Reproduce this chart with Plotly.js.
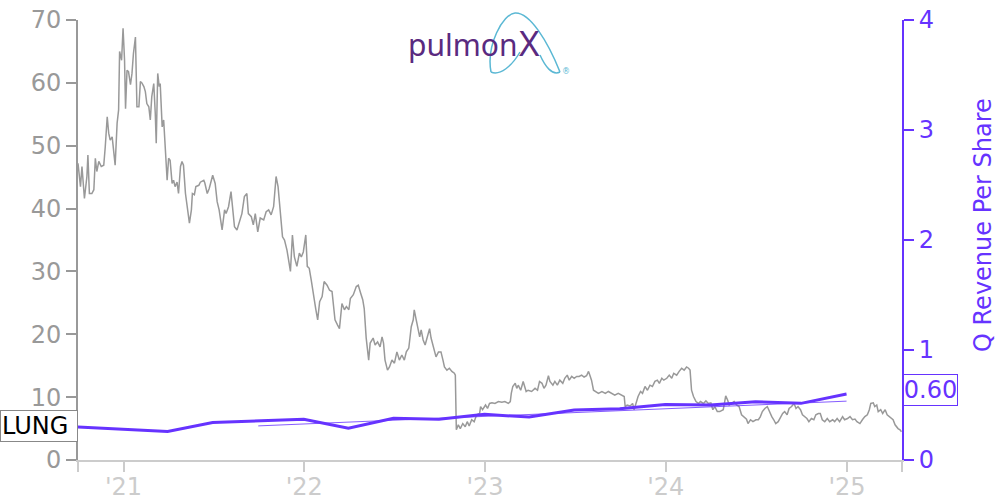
<!DOCTYPE html>
<html><head><meta charset="utf-8">
<script src="https://cdn.plot.ly/plotly-3.0.1.min.js"></script>
<style>html,body{margin:0;padding:0;background:#fff}#chart{width:1000px;height:500px}</style>
</head><body><div id="chart"></div>
<script>
const ticker = 'LUNG';
const brand = 'pulmon';
const brandX = 'X';
const rightTitle = 'Q Revenue Per Share';

const priceDates = [
'2020-10-01','2020-10-06','2020-10-09','2020-10-14','2020-10-19','2020-10-21','2020-10-24','2020-10-29','2020-11-02','2020-11-05','2020-11-08','2020-11-12','2020-11-17','2020-11-22','2020-11-25','2020-11-29','2020-12-02','2020-12-05','2020-12-09','2020-12-12','2020-12-15','2020-12-19','2020-12-22','2020-12-24','2020-12-28','2020-12-31',
'2021-01-03','2021-01-05','2021-01-08','2021-01-11','2021-01-15','2021-01-18','2021-01-21','2021-01-25','2021-01-28','2021-02-01','2021-02-04','2021-02-07','2021-02-11','2021-02-14','2021-02-17','2021-02-21','2021-02-24','2021-02-27','2021-03-03','2021-03-06','2021-03-08','2021-03-11','2021-03-14','2021-03-16','2021-03-20','2021-03-23','2021-03-26','2021-03-30',
'2021-04-02','2021-04-05','2021-04-09','2021-04-12','2021-04-15','2021-04-19','2021-04-22','2021-04-26','2021-04-29','2021-05-02','2021-05-06','2021-05-09','2021-05-14','2021-05-18','2021-05-20','2021-05-24','2021-05-27','2021-06-02','2021-06-05','2021-06-12','2021-06-14','2021-06-19','2021-06-23','2021-06-30',
'2021-07-05','2021-07-09','2021-07-13','2021-07-19','2021-07-24','2021-07-27','2021-08-01','2021-08-06','2021-08-09','2021-08-13','2021-08-18','2021-08-23','2021-08-28','2021-09-02','2021-09-07','2021-09-10','2021-09-16','2021-09-20','2021-09-24','2021-09-29',
'2021-10-04','2021-10-11','2021-10-16','2021-10-21','2021-10-26','2021-10-31','2021-11-05','2021-11-09','2021-11-13','2021-11-18','2021-11-22','2021-11-27','2021-12-04','2021-12-08','2021-12-12','2021-12-17','2021-12-22','2021-12-26','2021-12-30',
'2022-01-04','2022-01-07','2022-01-11','2022-01-15','2022-01-20','2022-01-24','2022-01-28','2022-02-01','2022-02-06','2022-02-10','2022-02-16','2022-02-21','2022-02-26','2022-03-01','2022-03-04','2022-03-09','2022-03-13','2022-03-18','2022-03-23','2022-03-27',
'2022-04-01','2022-04-04','2022-04-10','2022-04-16','2022-04-20','2022-04-25','2022-04-29','2022-05-02','2022-05-06','2022-05-11','2022-05-14','2022-05-20','2022-05-24','2022-05-29','2022-06-03','2022-06-07','2022-06-10','2022-06-13','2022-06-18','2022-06-22','2022-06-27',
'2022-07-02','2022-07-07','2022-07-12','2022-07-17','2022-07-22','2022-07-26','2022-07-31','2022-08-05','2022-08-09','2022-08-11','2022-08-15','2022-08-18','2022-08-22','2022-08-25','2022-08-29','2022-09-02','2022-09-06','2022-09-11','2022-09-14','2022-09-18','2022-09-20','2022-09-24','2022-09-29',
'2022-10-04','2022-10-08','2022-10-11','2022-10-16','2022-10-21','2022-10-26','2022-10-31','2022-11-02','2022-11-04','2022-11-08','2022-11-12','2022-11-17','2022-11-22','2022-11-26','2022-11-30','2022-12-05','2022-12-10','2022-12-15','2022-12-21','2022-12-23','2022-12-27',
'2023-01-02','2023-01-06','2023-01-10','2023-01-15','2023-01-21','2023-01-28','2023-02-04','2023-02-10','2023-02-17','2023-02-21','2023-02-23','2023-02-26','2023-03-03','2023-03-06','2023-03-09','2023-03-14','2023-03-19','2023-03-25','2023-03-29',
'2023-04-05','2023-04-12','2023-04-17','2023-04-21','2023-04-26','2023-04-30','2023-05-04','2023-05-09','2023-05-12','2023-05-18','2023-05-22','2023-05-27','2023-06-01','2023-06-07','2023-06-11','2023-06-16','2023-06-20','2023-06-25','2023-06-30',
'2023-07-05','2023-07-10','2023-07-15','2023-07-20','2023-07-25','2023-07-29','2023-08-01','2023-08-04','2023-08-08','2023-08-13','2023-08-18','2023-08-25','2023-09-01','2023-09-07','2023-09-14','2023-09-20','2023-09-27',
'2023-10-04','2023-10-09','2023-10-11','2023-10-15','2023-10-21','2023-10-26','2023-10-29','2023-11-02','2023-11-06','2023-11-11','2023-11-15','2023-11-20','2023-11-25','2023-11-30','2023-12-05','2023-12-10','2023-12-15','2023-12-19','2023-12-24','2023-12-28',
'2024-01-03','2024-01-08','2024-01-13','2024-01-17','2024-01-23','2024-01-28','2024-02-02','2024-02-07','2024-02-12','2024-02-16','2024-02-19','2024-02-22','2024-02-26','2024-03-02','2024-03-07','2024-03-11','2024-03-17','2024-03-22','2024-03-27',
'2024-04-01','2024-04-05','2024-04-09','2024-04-14','2024-04-19','2024-04-26','2024-04-29','2024-05-01','2024-05-05','2024-05-08','2024-05-13','2024-05-18','2024-05-23','2024-05-28','2024-06-02','2024-06-07','2024-06-12','2024-06-15','2024-06-20','2024-06-25',
'2024-07-01','2024-07-06','2024-07-10','2024-07-14','2024-07-19','2024-07-24','2024-07-28','2024-08-02','2024-08-06','2024-08-10','2024-08-15','2024-08-20','2024-08-24','2024-08-28','2024-09-02','2024-09-06','2024-09-11','2024-09-16','2024-09-20','2024-09-24','2024-09-29',
'2024-10-03','2024-10-08','2024-10-12','2024-10-16','2024-10-21','2024-10-26','2024-10-30','2024-11-04','2024-11-08','2024-11-12','2024-11-17','2024-11-22','2024-11-27','2024-12-03','2024-12-07','2024-12-12','2024-12-17','2024-12-23','2024-12-27',
'2025-01-02','2025-01-07','2025-01-12','2025-01-17','2025-01-21','2025-01-27','2025-02-01','2025-02-06','2025-02-11','2025-02-15','2025-02-18','2025-02-23','2025-02-26','2025-03-02','2025-03-05','2025-03-10','2025-03-14','2025-03-19','2025-03-23','2025-03-27',
'2025-04-01','2025-04-04','2025-04-08','2025-04-11','2025-04-14','2025-04-18','2025-04-21'
];
const priceValues = [
47.2,43.5,46.7,41.6,45.1,48.5,42.4,42.4,43.0,48.0,45.9,47.5,46.7,46.9,49.8,54.6,52.0,50.9,51.4,48.8,46.9,53.6,55.7,65.0,63.6,68.7,
63.6,55.9,62.0,61.8,59.7,61.5,64.7,67.3,56.2,56.2,60.2,60.0,59.4,58.6,56.7,56.2,54.1,57.8,59.9,55.2,50.4,61.5,59.4,59.9,53.0,54.1,49.8,44.5,
48.0,47.7,44.0,44.5,43.5,44.2,42.4,46.7,47.5,46.9,42.4,40.3,37.7,39.8,42.4,42.2,43.5,43.7,44.2,44.5,44.1,42.4,43.2,45.3,
44.0,41.1,39.8,36.6,39.8,39.2,40.3,42.7,40.3,37.1,36.6,37.9,39.2,41.9,42.4,39.2,38.7,37.4,39.2,36.3,
38.5,38.2,39.5,39.8,39.0,40.3,45.1,43.5,39.8,35.5,35.0,33.4,30.0,35.8,32.3,30.8,32.9,32.3,33.1,
35.8,30.8,30.5,28.6,25.7,24.1,22.3,25.2,26.0,28.4,27.8,27.0,26.8,24.9,22.3,21.5,20.9,24.9,23.9,24.4,
23.9,25.7,26.3,27.6,27.8,26.5,25.5,24.1,19.4,15.9,18.6,19.4,18.3,18.8,18.0,19.6,18.6,15.9,14.3,14.8,15.9,
15.4,17.2,15.9,16.7,15.9,17.2,17.8,21.2,22.3,23.9,22.3,21.2,19.6,20.7,19.1,18.3,19.6,20.9,19.4,18.0,17.5,16.4,17.2,
17.2,15.9,14.8,14.3,14.6,14.1,13.8,13.5,4.8,5.6,5.0,5.8,5.3,6.1,5.4,6.4,6.1,7.2,7.4,8.5,8.0,
8.75,8.2,9.0,9.1,9.0,9.3,9.2,9.3,9.0,9.3,10.6,11.7,12.2,11.4,11.9,11.1,12.5,10.9,11.1,
10.9,11.4,11.1,12.5,12.2,11.4,11.9,13.4,12.5,11.9,12.5,11.9,12.7,12.2,13.0,13.5,12.7,13.3,13.0,
13.3,13.3,13.5,13.2,13.4,14.1,13.4,12.7,11.1,10.9,10.6,10.9,10.6,10.9,10.6,10.3,10.6,
10.3,10.1,8.5,8.75,8.6,9.0,8.0,9.3,10.1,10.9,10.6,11.7,11.1,11.9,11.7,12.5,12.7,12.2,13.0,12.7,
13.0,13.5,13.0,13.8,13.5,14.1,14.6,14.3,14.8,14.6,14.3,11.1,10.1,9.3,9.0,9.3,9.0,9.4,9.0,
9.1,8.0,8.5,7.7,7.7,8.0,9.3,10.2,9.5,8.75,9.0,9.3,8.75,8.5,7.2,6.9,6.5,5.8,6.4,6.1,
6.4,6.4,6.9,7.7,8.2,8.5,7.7,6.9,6.4,5.8,6.1,6.9,7.4,7.7,7.2,8.2,8.5,9.0,8.2,8.5,8.0,
7.2,6.9,6.6,6.1,6.6,6.4,7.2,7.4,7.4,6.4,6.1,6.6,6.1,6.4,6.1,6.6,6.1,6.9,6.4,
6.6,6.9,6.4,6.5,6.1,5.8,6.4,6.9,7.2,8.0,9.0,9.1,8.5,8.75,7.7,8.0,7.4,8.0,7.2,6.9,
6.6,6.4,5.6,5.3,5.0,4.8,4.5
];

const revDates = ['2020-09-30','2021-03-31','2021-06-30','2021-09-30','2021-12-31','2022-03-31','2022-06-30','2022-09-30','2022-12-31','2023-03-31','2023-06-30','2023-09-30','2023-12-31','2024-03-31','2024-06-30','2024-09-30','2024-12-31'];
const revValues = [0.30,0.26,0.34,0.355,0.37,0.29,0.38,0.37,0.415,0.39,0.455,0.465,0.505,0.50,0.53,0.515,0.60];

const trendDates = ['2021-09-30','2024-12-31'];
const trendValues = [0.31,0.535];

const xRange = ['2020-10-01','2025-04-22'];
const xTickVals = ['2020-10-01','2021-01-01','2022-01-01','2023-01-01','2024-01-01','2025-01-01','2025-04-22'];
const xTickText = ['',"'21","'22","'23","'24","'25",''];
const leftTicks = [0,10,20,30,40,50,60,70];
const rightTicks = [0,1,2,3,4];

const PURPLE = '#6633ff';
const GRAY = '#999999';
const LIGHT = '#cccccc';
const FONT = 'DejaVu Sans';
const FS = 24;

// plot area in pixels
const L = 78, R = 902, T = 20, B = 460;
const px = x => (x - L) / (R - L);
const py = y => (B - y) / (B - T);
function path(pts) {
  return pts.map(s => s.replace(/(-?[\d.]+),(-?[\d.]+)/g, (m, a, b) => px(+a).toFixed(5) + ',' + py(+b).toFixed(5))).join(' ');
}

const traces = [
  {x: priceDates, y: priceValues, type: 'scatter', mode: 'lines', line: {color: GRAY, width: 1.5}, yaxis: 'y', hoverinfo: 'skip'},
  {x: trendDates, y: trendValues, type: 'scatter', mode: 'lines', line: {color: PURPLE, width: 1}, opacity: 0.8, yaxis: 'y2', hoverinfo: 'skip'},
  {x: revDates, y: revValues, type: 'scatter', mode: 'lines', line: {color: PURPLE, width: 3}, yaxis: 'y2', hoverinfo: 'skip'}
];

const layout = {
  width: 1000, height: 500,
  margin: {l: L, r: 1000 - R, t: T, b: 500 - B},
  paper_bgcolor: '#fff', plot_bgcolor: '#fff',
  showlegend: false,
  font: {family: FONT, size: FS, color: GRAY},
  xaxis: {
    type: 'date', range: xRange, tickvals: xTickVals, ticktext: xTickText,
    showgrid: false, zeroline: false, showline: true, linecolor: LIGHT, linewidth: 2,
    ticks: 'outside', ticklen: 10, tickwidth: 2, tickcolor: LIGHT, ticklabelstandoff: -6,
    tickfont: {family: FONT, size: FS, color: LIGHT}
  },
  yaxis: {
    range: [0, 70], tickvals: leftTicks, showgrid: false, zeroline: false,
    showline: true, linecolor: GRAY, linewidth: 2,
    ticks: 'outside', ticklen: 10, tickwidth: 2, tickcolor: GRAY,
    tickfont: {family: FONT, size: FS, color: GRAY}
  },
  yaxis2: {
    overlaying: 'y', side: 'right', range: [0, 4], tickvals: rightTicks,
    showgrid: false, zeroline: false, showline: true, linecolor: PURPLE, linewidth: 2,
    ticks: 'outside', ticklen: 10, tickwidth: 2, tickcolor: PURPLE,
    tickfont: {family: FONT, size: FS, color: PURPLE}
  },
  annotations: [
    {xref: 'paper', yref: 'paper', x: px(983), y: py(225), xanchor: 'center', yanchor: 'middle', textangle: -90,
     text: rightTitle, showarrow: false, font: {family: FONT, size: FS, color: PURPLE}},
    {xref: 'paper', yref: 'paper', x: px(0), y: py(426), xanchor: 'left', yanchor: 'middle',
     text: ticker, showarrow: false, font: {family: FONT, size: FS, color: '#000'},
     bgcolor: '#fff', bordercolor: '#888', borderwidth: 1, borderpad: 1, width: 74, align: 'left'},
    {xref: 'paper', yref: 'y2', x: px(903), y: revValues[revValues.length - 1], yshift: 4,
     xanchor: 'left', yanchor: 'middle',
     text: revValues[revValues.length - 1].toFixed(2), showarrow: false,
     font: {family: FONT, size: FS, color: PURPLE},
     bgcolor: '#fff', bordercolor: PURPLE, borderwidth: 1, borderpad: 1, width: 51, align: 'center'},
    {xref: 'paper', yref: 'paper', x: px(406), y: py(44), xanchor: 'left', yanchor: 'middle',
     text: brand, showarrow: false, font: {family: 'Noto Sans', size: 30, color: '#5a2a80'}},
    {xref: 'paper', yref: 'paper', x: px(517), y: py(42), xanchor: 'left', yanchor: 'middle',
     text: brandX, showarrow: false, font: {family: 'Noto Sans', size: 35, color: '#5a2a80'}},
    {xref: 'paper', yref: 'paper', x: px(566), y: py(71), xanchor: 'center', yanchor: 'middle',
     text: '®', showarrow: false, font: {family: FONT, size: 8, color: '#5bb8d4'}}
  ],
  shapes: [
    {type: 'path', xref: 'paper', yref: 'paper', line: {color: '#5bb8d4', width: 1.5},
     path: path(['M491,72', 'C486,45 503,14 515,13', 'C530,12 548,42 560,72'])},
    {type: 'path', xref: 'paper', yref: 'paper', line: {color: '#5bb8d4', width: 1.5},
     path: path(['M491,72', 'C500,76 512,66 520,52'])},
    {type: 'path', xref: 'paper', yref: 'paper', line: {color: '#5bb8d4', width: 1.5},
     path: path(['M560,72', 'C552,76 545,66 540,55'])}
  ]
};

Plotly.newPlot('chart', traces, layout, {displayModeBar: false, staticPlot: true});
</script>
</body></html>
